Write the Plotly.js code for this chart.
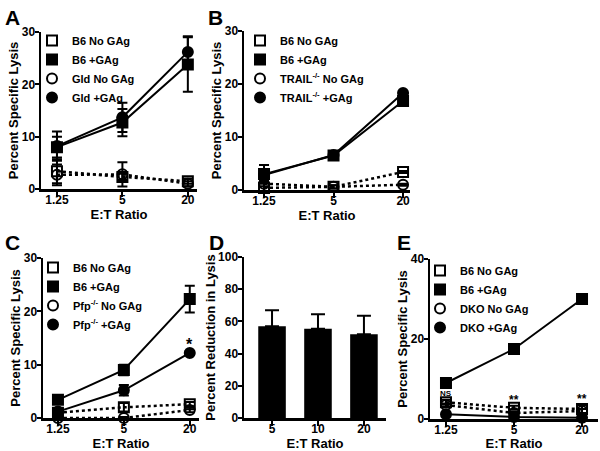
<!DOCTYPE html>
<html>
<head>
<meta charset="utf-8">
<script src="https://cdn.plot.ly/plotly-3.0.1.min.js"></script>
<style>
  html, body { margin: 0; padding: 0; background: white; }
  #fig { width: 600px; height: 451px; }
</style>
</head>
<body>
<div id="fig"></div>
<script>
// E:T ratios shared by the line panels
var ratios = ['1.25', '5', '20'];

// A: B6 vs Gld
var aB6No  = [3.4, 2.3, 1.5],   aB6NoErr  = [2.3, 0.6, 0.5];
var aB6Ga  = [8.0, 12.7, 23.8], aB6GaErr  = [2.0, 2.6, 5.2];
var aGldNo = [2.7, 2.8, 1.0],   aGldNoErr = [2.0, 2.3, 0.5];
var aGldGa = [8.2, 13.7, 26.2], aGldGaErr = [2.8, 2.8, 3.0];

// B: B6 vs TRAIL-/-
var bB6No = [0.4, 0.6, 3.4],   bB6NoErr = [0.8, 0.3, 0.2];
var bB6Ga = [3.0, 6.5, 16.8],  bB6GaErr = [1.7, 0.3, 0.4];
var bTrNo = [1.2, 0.6, 1.0],   bTrNoErr = [0.5, 0.3, 0.2];
var bTrGa = [2.8, 6.6, 18.3],  bTrGaErr = [1.0, 0.3, 0.3];

// C: B6 vs Pfp-/-
var cB6No = [1.0, 2.0, 2.6],   cB6NoErr = [0.3, 0.8, 0.4];
var cB6Ga = [3.4, 9.0, 22.3],  cB6GaErr = [0.4, 1.0, 2.5];
var cPfNo = [0.0, 0.0, 1.5],   cPfNoErr = [0.2, 0.2, 0.4];
var cPfGa = [1.2, 5.2, 12.2],  cPfGaErr = [0.3, 1.0, 0.3];

// D: percent reduction
var dRatios = ['5', '10', '20'];
var dMean = [57, 55.5, 52];
var dErr = [10, 9, 11.5];
var dErrDown = [0, 0, 0];

// E: B6 vs DKO
var eB6No = [4.2, 2.8, 2.5],   eB6NoErr = [0.6, 0.5, 1.0];
var eB6Ga = [9.0, 17.5, 30.0], eB6GaErr = [0.5, 1.0, 1.0];
var eDkNo = [3.5, 1.5, 2.0],   eDkNoErr = [0.4, 0.3, 0.5];
var eDkGa = [1.2, 0.5, 0.3],   eDkGaErr = [0.5, 0.2, 0.2];

// significance marks
var cStars = [{at: '20', text: '*'}];
var eStars = [{at: '1.25', text: 'NS'}, {at: '5', text: '**'}, {at: '20', text: '**'}];

var FONT = 'Liberation Sans, Arial, sans-serif';

function series(name, y, err, symbol, dash, n, legend) {
  var xa = 'x' + (n > 1 ? n : ''), ya = 'y' + (n > 1 ? n : '');
  return [
    {x: ratios, y: y, type: 'scatter', mode: 'lines', xaxis: xa, yaxis: ya,
     line: {color: 'black', width: dash == 'solid' ? 2 : 2.5, dash: dash},
     showlegend: false, hoverinfo: 'skip', cliponaxis: false},
    {x: ratios, y: y, type: 'scatter', mode: 'markers', name: name, legend: legend,
     xaxis: xa, yaxis: ya, cliponaxis: false,
     marker: {symbol: symbol, size: 10, color: 'black', line: {color: 'black', width: 2}},
     error_y: {type: 'data', array: err, color: 'black', thickness: 2, width: 5}}
  ];
}

var data = [].concat(
  series('B6 No GAg', aB6No, aB6NoErr, 'square-open', 'dot', 1, 'legend'),
  series('B6 +GAg', aB6Ga, aB6GaErr, 'square', 'solid', 1, 'legend'),
  series('Gld No GAg', aGldNo, aGldNoErr, 'circle-open', 'dot', 1, 'legend'),
  series('Gld +GAg', aGldGa, aGldGaErr, 'circle', 'solid', 1, 'legend'),

  series('B6 No GAg', bB6No, bB6NoErr, 'square-open', 'dot', 2, 'legend2'),
  series('B6 +GAg', bB6Ga, bB6GaErr, 'square', 'solid', 2, 'legend2'),
  series('TRAIL<sup>-/-</sup> No GAg', bTrNo, bTrNoErr, 'circle-open', 'dot', 2, 'legend2'),
  series('TRAIL<sup>-/-</sup> +GAg', bTrGa, bTrGaErr, 'circle', 'solid', 2, 'legend2'),

  series('B6 No GAg', cB6No, cB6NoErr, 'square-open', 'dot', 3, 'legend3'),
  series('B6 +GAg', cB6Ga, cB6GaErr, 'square', 'solid', 3, 'legend3'),
  series('Pfp<sup>-/-</sup> No GAg', cPfNo, cPfNoErr, 'circle-open', 'dot', 3, 'legend3'),
  series('Pfp<sup>-/-</sup> +GAg', cPfGa, cPfGaErr, 'circle', 'solid', 3, 'legend3'),

  series('B6 No GAg', eB6No, eB6NoErr, 'square-open', 'dot', 5, 'legend5'),
  series('B6 +GAg', eB6Ga, eB6GaErr, 'square', 'solid', 5, 'legend5'),
  series('DKO No GAg', eDkNo, eDkNoErr, 'circle-open', 'dot', 5, 'legend5'),
  series('DKO +GAg', eDkGa, eDkGaErr, 'circle', 'solid', 5, 'legend5')
);

data.push({
  x: dRatios, y: dMean, type: 'bar', xaxis: 'x4', yaxis: 'y4', width: 0.6,
  marker: {color: 'black'}, showlegend: false,
  error_y: {type: 'data', symmetric: false, array: dErr, arrayminus: dErrDown,
            color: 'black', thickness: 2, width: 7}
});

function fx(p) { return p / 600; }
function fy(p) { return 1 - p / 451; }

function xax(x0, x1, range, anchor) {
  return {
    domain: [fx(x0), fx(x1)], range: range, type: 'category', anchor: anchor,
    showline: true, linewidth: 2.5, linecolor: 'black', showgrid: false, zeroline: false,
    ticks: 'outside', ticklen: 5, tickwidth: 2, tickcolor: 'black',
    ticklabelposition: 'outside', ticklabelstandoff: -7,
    tickfont: {family: FONT, size: 12, color: 'black', weight: 'bold'},
    title: {text: 'E:T Ratio', standoff: 0, font: {family: FONT, size: 13, color: 'black', weight: 'bold'}}
  };
}

function yax(y0, y1, range, dtick, title, anchor) {
  return {
    domain: [fy(y1), fy(y0)], range: range, dtick: dtick, anchor: anchor,
    showline: true, linewidth: 2.5, linecolor: 'black', showgrid: false, zeroline: false,
    ticks: 'outside', ticklen: 4, tickwidth: 2, tickcolor: 'black',
    ticklabelposition: 'outside', ticklabelstandoff: -3,
    tickfont: {family: FONT, size: 12, color: 'black', weight: 'bold'},
    title: {text: title, standoff: 0, font: {family: FONT, size: 13, color: 'black', weight: 'bold'}}
  };
}

function leg(x0, y0) {
  return {
    x: fx(x0), y: fy(y0), xanchor: 'left', yanchor: 'top', bgcolor: 'rgba(0,0,0,0)',
    font: {family: FONT, size: 11, color: 'black', weight: 'bold'}, itemwidth: 30
  };
}

function letter(t, x0, y0) {
  return {text: t, xref: 'paper', yref: 'paper', x: fx(x0), y: fy(y0),
          xanchor: 'left', yanchor: 'top', showarrow: false,
          font: {family: FONT, size: 21, color: 'black', weight: 'bold'}};
}

// mark placed just above the given point (x as category index)
function star(s, n, ys, errs, size, shift) {
  var i = ratios.indexOf(s.at);
  return {text: s.text, xref: 'x' + n, yref: 'y' + n, x: i, y: ys[i] + errs[i],
          yanchor: 'bottom', yshift: shift, showarrow: false,
          font: {family: FONT, size: size, color: 'black', weight: 'bold'}};
}

var annotations = [
  letter('A', 3, 4), letter('B', 206, 4), letter('C', 3, 229),
  letter('D', 207, 229), letter('E', 395, 229)
];
cStars.forEach(function (s) { annotations.push(star(s, 3, cPfGa, cPfGaErr, 16, -4)); });
eStars.forEach(function (s) {
  if (s.text == 'NS') annotations.push(star(s, 5, eB6No, eB6NoErr, 8, 0));
  else annotations.push(star(s, 5, eB6No, eB6NoErr, 12, -3));
});

var layout = {
  width: 600, height: 451,
  margin: {l: 0, r: 0, t: 0, b: 0},
  paper_bgcolor: 'white', plot_bgcolor: 'white',
  font: {family: FONT, color: 'black'},
  xaxis:  xax(41, 197, [-0.244, 2.14], 'y'),
  yaxis:  yax(32, 189, [0, 30], 10, 'Percent Specific Lysis', 'x'),
  xaxis2: xax(244, 410, [-0.288, 2.10], 'y2'),
  yaxis2: yax(31, 190, [0, 30], 10, 'Percent Specific Lysis', 'x2'),
  xaxis3: xax(43, 199, [-0.227, 2.14], 'y3'),
  yaxis3: yax(258, 418, [0, 30], 10, 'Percent Specific Lysis', 'x3'),
  xaxis4: xax(244, 386, [-0.61, 2.48], 'y4'),
  yaxis4: yax(257, 418, [0, 100], 20, 'Percent Reduction in Lysis', 'x4'),
  xaxis5: xax(430, 598, [-0.235, 2.235], 'y5'),
  yaxis5: yax(259, 419, [0, 40], 20, 'Percent Specific Lysis', 'x5'),
  legend:  leg(32, 26),
  legend2: leg(240, 26),
  legend3: leg(33, 253),
  legend5: leg(420, 256),
  annotations: annotations
};

Plotly.newPlot('fig', data, layout, {displayModeBar: false, staticPlot: true});
</script>
</body>
</html>
